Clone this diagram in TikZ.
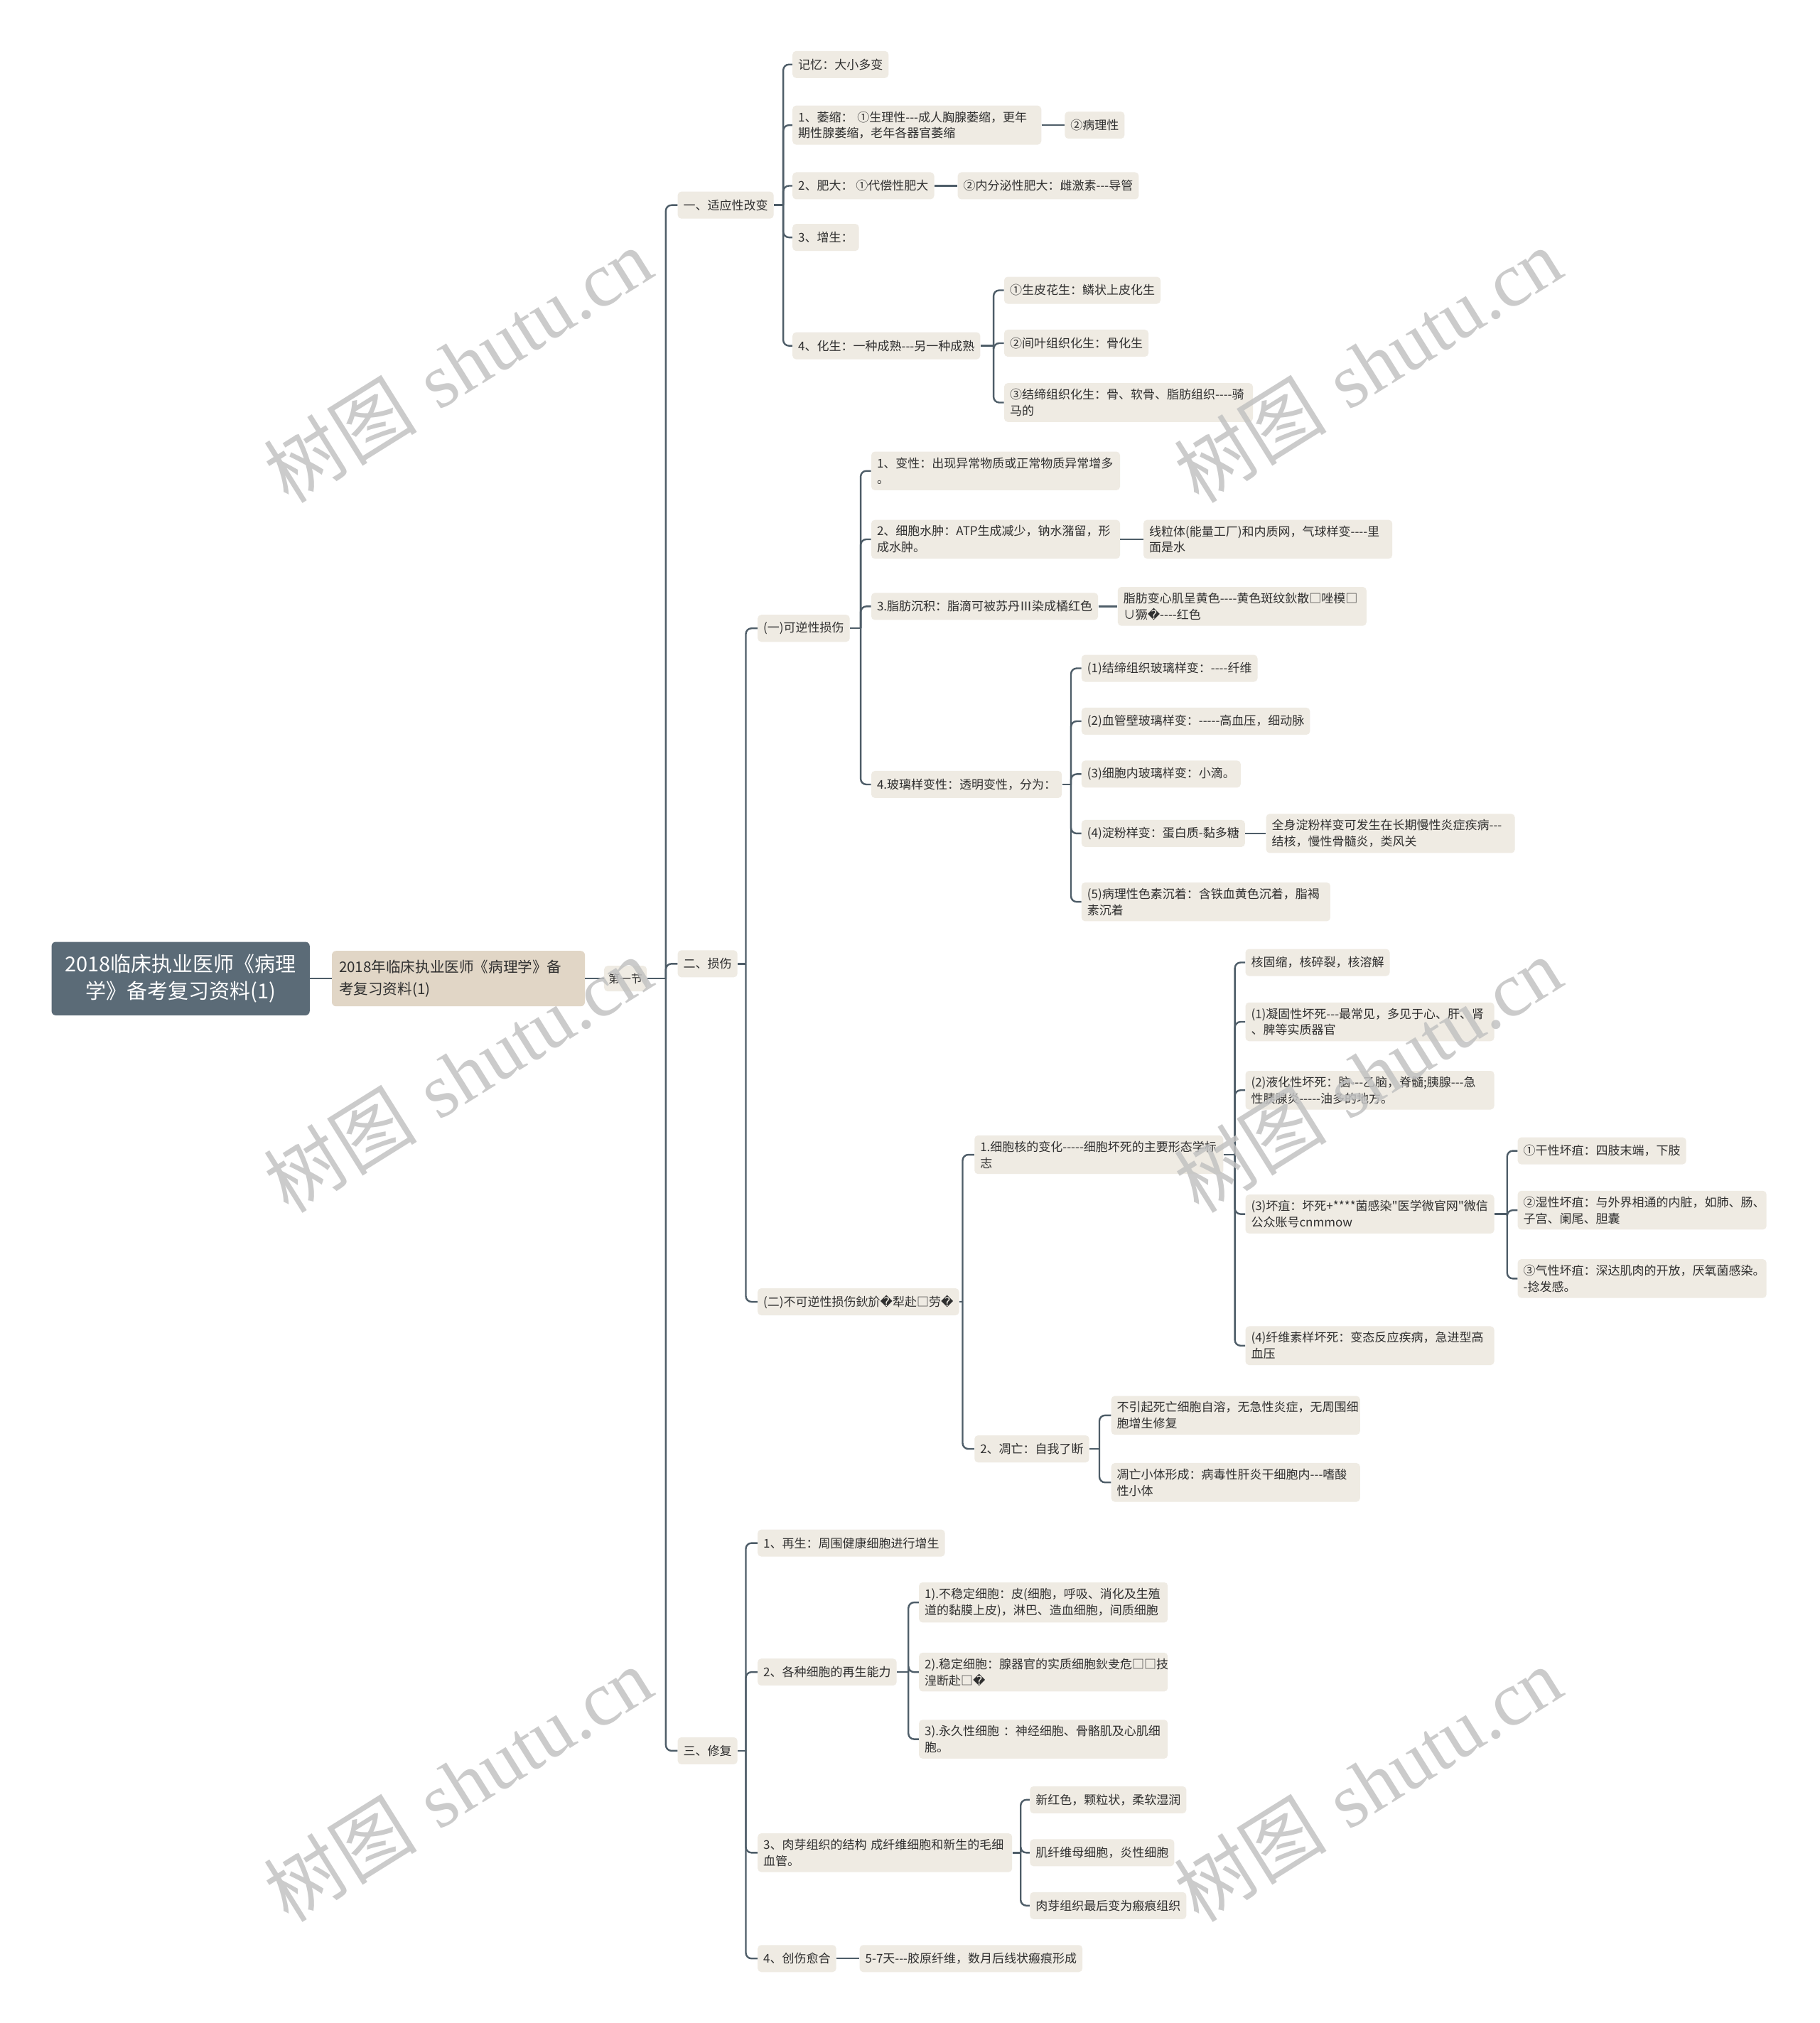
\documentclass[tikz,border=0pt]{standalone}
\usepackage{fontspec}
\newfontfamily\cjk{Noto Sans CJK SC}
\newfontfamily\dvfont{DejaVu Sans}
\newfontfamily\wmserif{Liberation Serif}
\newcommand\repch{{\dvfont\symbol{"FFFD}}}
\newcommand\nfs{\fontsize{8.5pt}{11.4pt}\selectfont}
\definecolor{linec}{HTML}{4E5D68}
\definecolor{boxc}{HTML}{EFEBE3}
\definecolor{rootc}{HTML}{5B6B77}
\definecolor{subc}{HTML}{E1D6C6}
\definecolor{txt}{HTML}{2F2F2F}
\begin{document}
\begin{tikzpicture}[x=0.9078pt, y=-0.9078pt,
  box/.style={fill=boxc, rounded corners=2.5pt, inner xsep=4pt, inner ysep=4pt, minimum height=19pt, anchor=west, align=left, text=txt, font=\cjk\nfs},
  box2/.style={box, text width=167pt},
  conn/.style={draw=linec, line width=1.2pt, rounded corners=4pt},
  wm/.style={rotate=32, text=black!24, text opacity=0.85, font=\fontsize{54pt}{60pt}\selectfont}]
\fill[white] (0,0) rectangle (1410,1568);
\useasboundingbox (0,0) rectangle (1410,1568);

% root and top levels
\node[fill=rootc, text=white, rounded corners=3pt, minimum width=181.6pt, minimum height=51.7pt, align=center, font=\cjk\fontsize{14.5pt}{19pt}\selectfont] (root) at (140,758.5) {2018临床执业医师《病理\\学》备考复习资料(1)};
\node[fill=subc, rounded corners=3pt, anchor=west, text width=168pt, inner xsep=5pt, inner ysep=4pt, minimum height=39pt, align=left, text=txt, font=\cjk\fontsize{10.3pt}{15.5pt}\selectfont] (n2) at (257,758.5) {2018年临床执业医师《病理学》备\\考复习资料(1)};
\node[box, font=\cjk\fontsize{8pt}{10pt}\selectfont, inner xsep=3pt, minimum height=18pt] (n3) at (468,758.5) {第一节};

\node[box] (a1) at (525,159) {一、适应性改变};
\node[box] (a2) at (525,747) {二、损伤};
\node[box] (a3) at (525,1357) {三、修复};

% section 1
\node[box] (b1) at (614,50) {记忆：大小多变};
\node[box2] (b2) at (614,97) {1、萎缩： ①生理性---成人胸腺萎缩，更年\\期性腺萎缩，老年各器官萎缩};
\node[box] (b3) at (825,97) {②病理性};
\node[box] (b4) at (614,144) {2、肥大： ①代偿性肥大};
\node[box] (b5) at (742,144) {②内分泌性肥大：雌激素---导管};
\node[box] (b6) at (614,184) {3、增生：};
\node[box] (b7) at (614,268) {4、化生：一种成熟---另一种成熟};
\node[box] (b8) at (778,225) {①生皮花生：鳞状上皮化生};
\node[box] (b9) at (778,266) {②间叶组织化生：骨化生};
\node[box2] (b10) at (778,312) {③结缔组织化生：骨、软骨、脂肪组织----骑\\马的};

% section 2
\node[box] (c1) at (587,487) {(一)可逆性损伤};
\node[box] (c2) at (587,1009) {(二)不可逆性损伤鈥斺\repch 犁赴□劳\repch};

\node[box2] (d1) at (675,365) {1、变性：出现异常物质或正常物质异常增多\\。};
\node[box2] (d2) at (675,418) {2、细胞水肿：ATP生成减少，钠水潴留，形\\成水肿。};
\node[box2] (d3) at (886,418) {线粒体(能量工厂)和内质网，气球样变----里\\面是水};
\node[box] (d4) at (675,470) {3.脂肪沉积：脂滴可被苏丹Ⅲ染成橘红色};
\node[box2] (d5) at (866,470) {脂肪变心肌呈黄色----黄色斑纹鈥散□唑模□\\∪獗\repch----红色};
\node[box] (d6) at (675,608) {4.玻璃样变性：透明变性，分为：};

\node[box] (e1) at (838,518) {(1)结缔组织玻璃样变：----纤维};
\node[box] (e2) at (838,559) {(2)血管壁玻璃样变：-----高血压，细动脉};
\node[box] (e3) at (838,600) {(3)细胞内玻璃样变：小滴。};
\node[box] (e4) at (838,646) {(4)淀粉样变：蛋白质-黏多糖};
\node[box2] (e5) at (981,646) {全身淀粉样变可发生在长期慢性炎症疾病---\\结核，慢性骨髓炎，类风关};
\node[box2] (e6) at (838,699) {(5)病理性色素沉着：含铁血黄色沉着，脂褐\\素沉着};

\node[box2] (f1) at (755,895) {1.细胞核的变化-----细胞坏死的主要形态学标\\志};
\node[box] (f2) at (755,1123) {2、凋亡：自我了断};

\node[box] (g1) at (965,746) {核固缩，核碎裂，核溶解};
\node[box2] (g2) at (965,792) {(1)凝固性坏死---最常见，多见于心、肝、肾\\、脾等实质器官};
\node[box2] (g3) at (965,845) {(2)液化性坏死：脑---乙脑，脊髓;胰腺---急\\性胰腺炎-----油多的地方。};
\node[box2] (g4) at (965,941) {(3)坏疽：坏死+****菌感染"医学微官网"微信\\公众账号cnmmow};
\node[box2] (g5) at (965,1043) {(4)纤维素样坏死：变态反应疾病，急进型高\\血压};

\node[box] (h1) at (1176,892) {①干性坏疽：四肢末端，下肢};
\node[box2] (h2) at (1176,938) {②湿性坏疽：与外界相通的内脏，如肺、肠、\\子宫、阑尾、胆囊};
\node[box2] (h3) at (1176,991) {③气性坏疽：深达肌肉的开放，厌氧菌感染。\\-捻发感。};

\node[box2] (i1) at (861,1097) {不引起死亡细胞自溶，无急性炎症，无周围细\\胞增生修复};
\node[box2] (i2) at (861,1149) {凋亡小体形成：病毒性肝炎干细胞内---嗜酸\\性小体};

% section 3
\node[box] (j1) at (587,1196) {1、再生：周围健康细胞进行增生};
\node[box] (j2) at (587,1296) {2、各种细胞的再生能力};
\node[box, text width=171pt] (j3) at (587,1436) {3、肉芽组织的结构 成纤维细胞和新生的毛细\\血管。};
\node[box] (j4) at (587,1518) {4、创伤愈合};
\node[box] (j5) at (666,1518) {5-7天---胶原纤维，数月后线状瘢痕形成};

\node[box2] (k1) at (712,1242) {1).不稳定细胞：皮(细胞，呼吸、消化及生殖\\道的黏膜上皮)，淋巴、造血细胞，间质细胞};
\node[box2] (k2) at (712,1296) {2).稳定细胞：腺器官的实质细胞鈥叏危□□技\\湟断赴□\repch};
\node[box2] (k3) at (712,1348) {3).永久性细胞 ：神经细胞、骨骼肌及心肌细\\胞。};

\node[box] (l1) at (798,1395) {新红色，颗粒状，柔软湿润};
\node[box] (l2) at (798,1436) {肌纤维母细胞，炎性细胞};
\node[box] (l3) at (798,1477) {肉芽组织最后变为瘢痕组织};

% junctions
\coordinate (tj) at (516,758.5);
\coordinate (a1j) at (607,159);
\coordinate (b7j) at (770,268);
\coordinate (a2j) at (578,747);
\coordinate (c1j) at (667,487);
\coordinate (d6j) at (830,608);
\coordinate (c2j) at (746,1009);
\coordinate (f1j) at (957,895);
\coordinate (g4j) at (1168,941);
\coordinate (f2j) at (852,1123);
\coordinate (a3j) at (578,1357);
\coordinate (j2j) at (704,1296);
\coordinate (j3j) at (791,1436);

% straight connectors
\draw[conn] (root.east) -- (n2.west);
\draw[conn] (n2.east) -- (n3.west);
\draw[conn] (b2.east) -- (b3.west);
\draw[conn] (b4.east) -- (b5.west);
\draw[conn] (d2.east) -- (d3.west);
\draw[conn] (d4.east) -- (d5.west);
\draw[conn] (e4.east) -- (e5.west);
\draw[conn] (j4.east) -- (j5.west);

% stubs to junctions
\draw[conn] (n3.east) -- (tj);
\draw[conn] (a1.east) -- (a1j);
\draw[conn] (b7.east) -- (b7j);
\draw[conn] (a2.east) -- (a2j);
\draw[conn] (c1.east) -- (c1j);
\draw[conn] (d6.east) -- (d6j);
\draw[conn] (c2.east) -- (c2j);
\draw[conn] (f1.east) -- (f1j);
\draw[conn] (g4.east) -- (g4j);
\draw[conn] (f2.east) -- (f2j);
\draw[conn] (a3.east) -- (a3j);
\draw[conn] (j2.east) -- (j2j);
\draw[conn] (j3.east) -- (j3j);

% branches
\foreach \c in {a1,a2,a3} \draw[conn] (tj) |- (\c.west);
\foreach \c in {b1,b2,b4,b6,b7} \draw[conn] (a1j) |- (\c.west);
\foreach \c in {b8,b9,b10} \draw[conn] (b7j) |- (\c.west);
\foreach \c in {c1,c2} \draw[conn] (a2j) |- (\c.west);
\foreach \c in {d1,d2,d4,d6} \draw[conn] (c1j) |- (\c.west);
\foreach \c in {e1,e2,e3,e4,e6} \draw[conn] (d6j) |- (\c.west);
\foreach \c in {f1,f2} \draw[conn] (c2j) |- (\c.west);
\foreach \c in {g1,g2,g3,g4,g5} \draw[conn] (f1j) |- (\c.west);
\foreach \c in {h1,h2,h3} \draw[conn] (g4j) |- (\c.west);
\foreach \c in {i1,i2} \draw[conn] (f2j) |- (\c.west);
\foreach \c in {j1,j2,j3,j4} \draw[conn] (a3j) |- (\c.west);
\foreach \c in {k1,k2,k3} \draw[conn] (j2j) |- (\c.west);
\foreach \c in {l1,l2,l3} \draw[conn] (j3j) |- (\c.west);

% watermarks
\foreach \wx/\wy in {355/283, 1060/283, 355/833, 1060/833, 355/1383, 1060/1383}
  \node[wm] (wm-\wx-\wy) at (\wx,\wy) {{\cjk 树图} {\wmserif shutu.cn}};
\end{tikzpicture}
\end{document}
